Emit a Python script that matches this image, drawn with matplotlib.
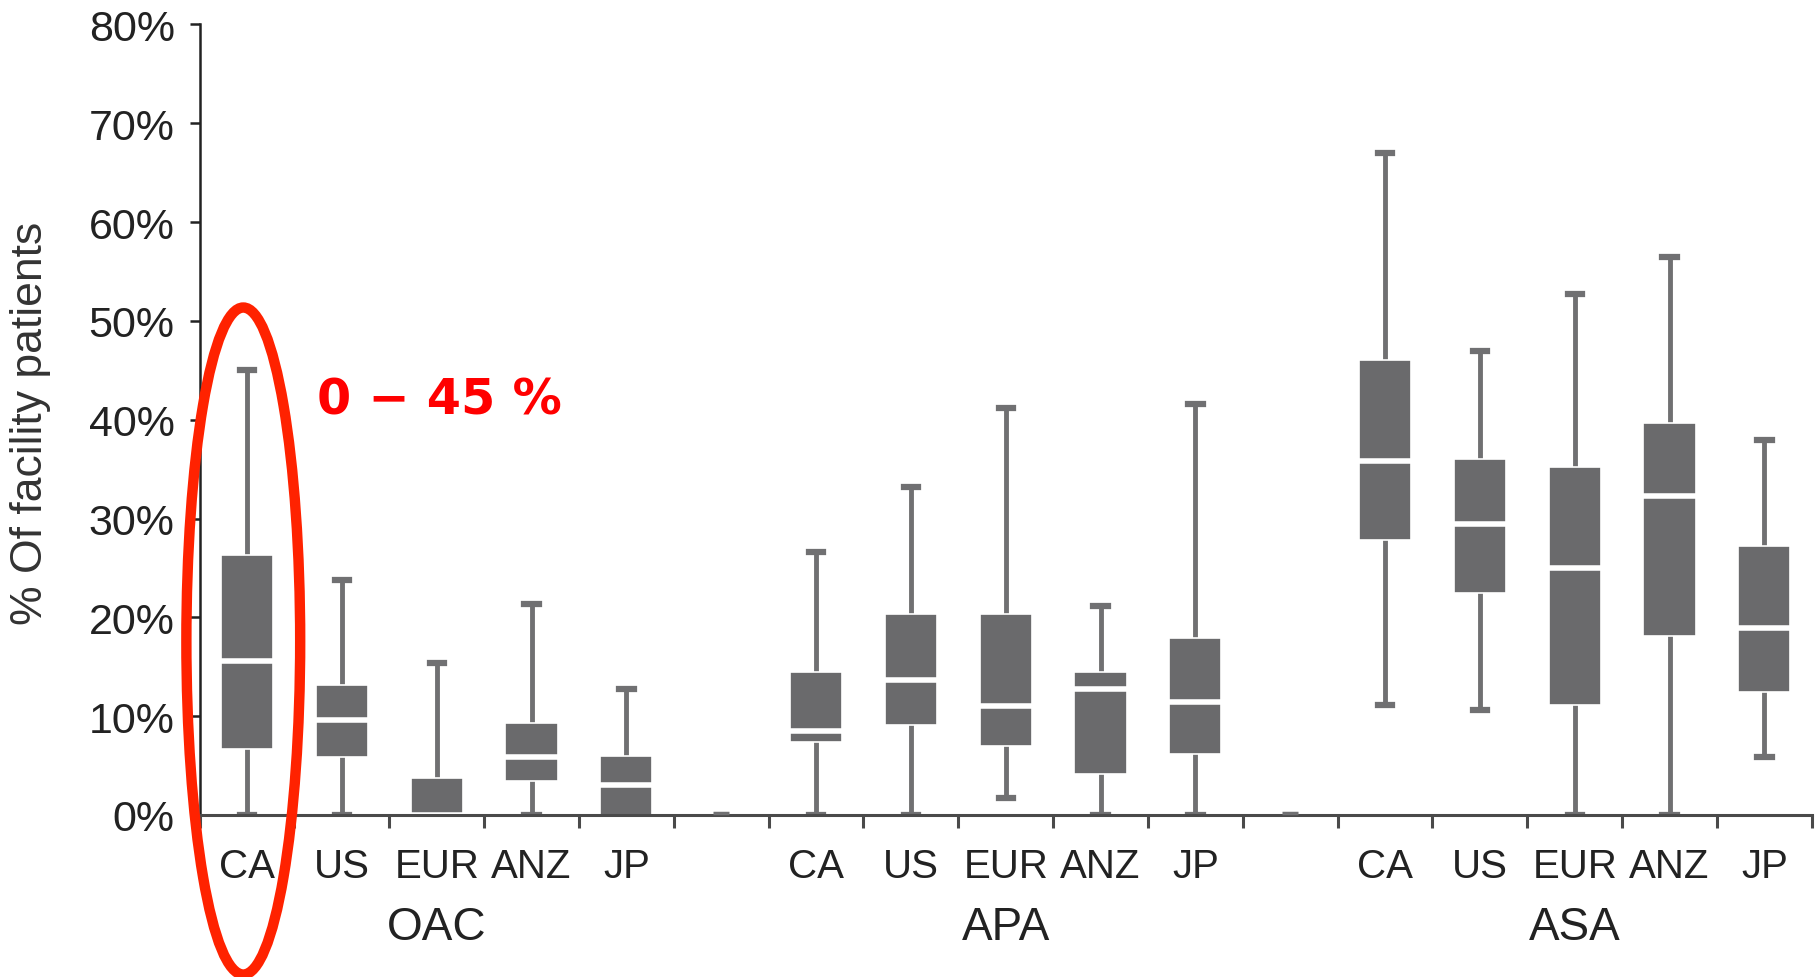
import numpy as np
import matplotlib.pyplot as plt
from matplotlib.patches import Ellipse
from matplotlib.transforms import blended_transform_factory

plt.rcParams['font.family'] = ['Liberation Sans', 'DejaVu Sans']

# Facility-level distributions (% of facility patients), per drug class and region
groups = ['OAC', 'APA', 'ASA']
regions = ['CA', 'US', 'EUR', 'ANZ', 'JP']

whis_lo = [0.0, 0.0, 0.0, 0.0, 0.0,
           0.0, 0.0, 1.7, 0.0, 0.0,
           11.1, 10.6, 0.0, 0.0, 5.9]
q1 = [6.7, 5.9, 0.0, 3.4, 0.0,
      7.4, 9.1, 7.0, 4.1, 6.2,
      27.8, 22.5, 11.1, 18.1, 12.4]
median = [15.6, 9.6, 0.0, 5.9, 3.0,
          8.5, 13.7, 11.0, 12.7, 11.4,
          35.8, 29.4, 25.0, 32.3, 18.9]
q3 = [26.3, 13.1, 3.7, 9.3, 6.0,
      14.5, 20.3, 20.3, 14.5, 17.9,
      46.0, 36.0, 35.2, 39.7, 27.2]
whis_hi = [45.0, 23.8, 15.4, 21.3, 12.7,
           26.6, 33.2, 41.2, 21.1, 41.6,
           67.0, 47.0, 52.7, 56.5, 37.9]

highlight_text = '0 \u2212 45 %'

# slot layout: 5 boxes per group with one empty slot between groups
n_per = len(regions)
slots = []
for g in range(len(groups)):
    slots += [g * (n_per + 1) + i for i in range(n_per)]
empty_slots = [n_per, 2 * n_per + 1]
n_slots = len(groups) * (n_per + 1) - 1

stats = []
for i in range(len(slots)):
    stats.append(dict(med=median[i], q1=q1[i], q3=q3[i],
                      whislo=whis_lo[i], whishi=whis_hi[i], fliers=[]))

box_grey = '#6a6a6c'
line_grey = '#707072'

fig = plt.figure(figsize=(18.2, 9.78), dpi=100)
ax = fig.add_axes([0.1097, 0.1657, 0.8858, 0.8083])

ax.bxp(stats, positions=slots, widths=0.55, patch_artist=True,
       showfliers=False, capwidths=0.15,
       boxprops=dict(facecolor=box_grey, edgecolor='white', linewidth=1.2, zorder=3),
       medianprops=dict(color='white', linewidth=4.0, zorder=4),
       whiskerprops=dict(color=line_grey, linewidth=3.5, zorder=2),
       capprops=dict(color=line_grey, linewidth=4.5, zorder=2))

# tiny marks for the empty slots
ax.plot(empty_slots, [0.2] * len(empty_slots), linestyle='none', marker='_',
        markersize=11, markeredgewidth=2.5, color=line_grey, clip_on=False, zorder=7)

ax.set_xlim(-0.5, n_slots - 0.5)
ax.set_ylim(0, 80)

ax.spines['top'].set_visible(False)
ax.spines['right'].set_visible(False)
ax.spines['left'].set_color('#222222')
ax.spines['left'].set_linewidth(1.8)
ax.spines['bottom'].set_color('#4a4a4a')
ax.spines['bottom'].set_linewidth(2.2)
ax.spines['bottom'].set_zorder(6)

yt = np.arange(0, 81, 10)
ax.set_yticks(yt)
ax.set_yticklabels([f'{v}%' for v in yt])
ax.tick_params(axis='y', direction='out', length=7, width=1.8, color='#222222',
               pad=11, labelsize=31, labelcolor='#222222')

ax.set_xticks(slots)
ax.set_xticklabels(regions * len(groups))
ax.set_xticks(np.arange(-0.5, n_slots, 1.0), minor=True)
ax.tick_params(axis='x', which='major', length=0, pad=23, labelsize=29,
               labelcolor='#222222')
ax.tick_params(axis='x', which='minor', direction='out', length=9, width=2.2,
               color='#4a4a4a')

trans = blended_transform_factory(ax.transData, ax.transAxes)
for g, name in enumerate(groups):
    xc = g * (n_per + 1) + (n_per - 1) / 2
    ax.text(xc, -0.142, name, transform=trans, ha='center', va='center',
            fontsize=33, color='#222222')

fig.text(0.0165, 0.567, '% Of facility patients', rotation=90, ha='center',
         va='center', fontsize=32, color='#333333')

# highlight on the OAC / CA box
ax.add_patch(Ellipse((-0.04, 17.6), width=1.2, height=67.5, fill=False,
                     edgecolor='#ff2200', linewidth=7.5, clip_on=False, zorder=7))
ax.text(0.74, 42.0, highlight_text, ha='left', va='center', fontsize=35.5,
        fontweight='bold', color='#ff0000', family='DejaVu Sans', zorder=8)

fig.savefig('out.png', dpi=100)
